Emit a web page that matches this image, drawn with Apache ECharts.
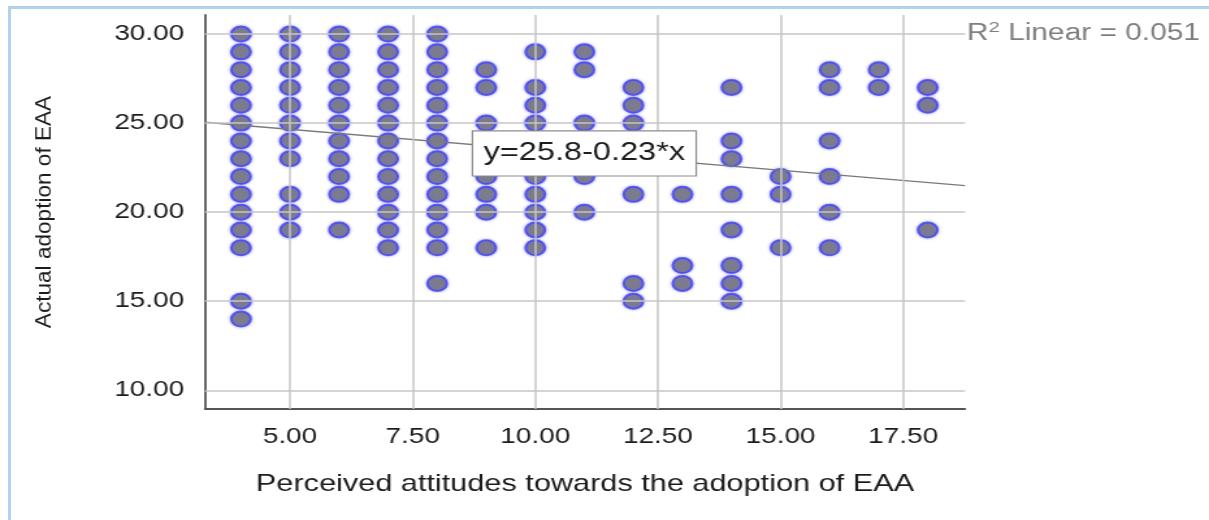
<!DOCTYPE html>
<html>
<head>
<meta charset="utf-8">
<title>Attitudes vs adoption of EAA</title>
<script src="https://cdn.jsdelivr.net/npm/echarts@6/dist/echarts.min.js"></script>
<style>
  html, body { margin: 0; padding: 0; background: #fff; }
  #page { position: relative; width: 1209px; height: 520px; overflow: hidden; background: #fff; }
  #frame {
    position: absolute; left: 8px; top: 6px; right: -10px; bottom: -10px;
    border-left: 3px solid #b3d1ee; border-top: 3px solid #b3d1ee;
    filter: blur(0.6px);
  }
  /* the chart is laid out narrow and widened horizontally */
  #chart {
    position: absolute; left: 0; top: 0; width: 930px; height: 520px;
    transform: scaleX(1.3); transform-origin: 0 0;
  }
</style>
</head>
<body>
<div id="page">
  <div id="frame"></div>
  <div id="chart"></div>
</div>
<script>
// Perceived attitude scores (x) and the actual-adoption scores observed at each one
const attitudeLevels = [4, 5, 6, 7, 8, 9, 10, 11, 12, 13, 14, 15, 16, 17, 18];
const adoptionAtLevel = [
  [30, 29, 28, 27, 26, 25, 24, 23, 22, 21, 20, 19, 18, 15, 14],
  [30, 29, 28, 27, 26, 25, 24, 23, 21, 20, 19],
  [30, 29, 28, 27, 26, 25, 24, 23, 22, 21, 19],
  [30, 29, 28, 27, 26, 25, 24, 23, 22, 21, 20, 19, 18],
  [30, 29, 28, 27, 26, 25, 24, 23, 22, 21, 20, 19, 18, 16],
  [28, 27, 25, 24, 23, 22, 21, 20, 18],
  [29, 27, 26, 25, 24, 23, 22, 21, 20, 19, 18],
  [29, 28, 25, 22, 20],
  [27, 26, 25, 21, 16, 15],
  [21, 17, 16],
  [27, 24, 23, 21, 19, 17, 16, 15],
  [22, 21, 18],
  [28, 27, 24, 22, 20, 18],
  [28, 27],
  [27, 26, 19]
];

// Axis ranges and tick labels
const xRange = [3.267, 18.76];
const yRange = [8.95, 31.07];
const xTicks = [5, 7.5, 10, 12.5, 15, 17.5];
const yTicks = [10, 15, 20, 25, 30];

// Linear fit: y = 25.8 - 0.23 * x, R² = 0.051
const fitIntercept = 25.8;
const fitSlope = -0.23;
const fitR2 = 0.051;
const fitLabelAt = [11.0, 23.3];

const points = [];
attitudeLevels.forEach((x, i) => {
  adoptionAtLevel[i].forEach(y => points.push([x, y]));
});

const fitLine = xRange.map(x => [x, fitIntercept + fitSlope * x]);
const fitText = 'y=' + fitIntercept + (fitSlope < 0 ? '-' : '+') + Math.abs(fitSlope) + '*x';

const FONT = "'Liberation Sans', Arial, Helvetica, sans-serif";
const TEXT = '#1c1c1c';
const GRID_LINE = { color: '#c6c6c6', width: 1.5, type: 'solid' };
const HIDDEN_ITEM = { color: 'rgba(0,0,0,0)', borderWidth: 0 };

const chart = echarts.init(document.getElementById('chart'), null, { renderer: 'canvas' });

chart.setOption({
  animation: false,
  backgroundColor: 'transparent',
  textStyle: { fontFamily: FONT },
  grid: { left: 157.7, right: 187.7, top: 15, bottom: 111, containLabel: false },
  xAxis: {
    type: 'value',
    min: xRange[0],
    max: xRange[1],
    name: 'Perceived attitudes towards the adoption of EAA',
    nameLocation: 'middle',
    nameGap: 63,
    nameTextStyle: { fontSize: 23.6, color: TEXT, fontFamily: FONT },
    axisLine: { show: true, lineStyle: { color: '#555', width: 1.8 } },
    axisTick: { show: false },
    splitLine: { show: false },
    axisLabel: {
      customValues: xTicks,
      formatter: v => v.toFixed(2),
      fontSize: 21.5,
      color: TEXT,
      margin: 17,
      fontFamily: FONT
    }
  },
  yAxis: {
    type: 'value',
    min: yRange[0],
    max: yRange[1],
    axisLine: { show: true, lineStyle: { color: '#555', width: 1.8 } },
    axisTick: { show: false },
    splitLine: { show: false },
    axisLabel: {
      customValues: yTicks,
      formatter: v => v.toFixed(2),
      fontSize: 21.5,
      color: TEXT,
      margin: 16,
      fontFamily: FONT
    }
  },
  graphic: [{
    id: 'yTitle',
    type: 'text',
    x: 34.6,
    y: 212,
    rotation: Math.PI / 2,
    scaleY: 0.72,
    style: {
      text: 'Actual adoption of EAA',
      fontSize: 22.6,
      fontFamily: FONT,
      fill: TEXT,
      align: 'center',
      verticalAlign: 'middle'
    }
  }],
  series: [
    {
      // reference grid at the tick positions
      type: 'scatter',
      data: [],
      z: 1,
      silent: true,
      markLine: {
        silent: true,
        symbol: 'none',
        label: { show: false },
        lineStyle: GRID_LINE,
        emphasis: { disabled: true },
        animation: false,
        data: xTicks.map(v => ({ xAxis: v })).concat(yTicks.map(v => ({ yAxis: v })))
      }
    },
    {
      name: 'Observed',
      type: 'scatter',
      z: 3,
      symbol: 'circle',
      symbolSize: 15,
      data: points,
      itemStyle: {
        color: '#6f6f6f',
        borderColor: '#4444f4',
        borderWidth: 2,
        shadowColor: 'rgba(90, 90, 255, 0.6)',
        shadowBlur: 3
      },
      emphasis: { disabled: true }
    },
    {
      name: 'Linear fit',
      type: 'line',
      z: 4,
      data: fitLine,
      symbol: 'none',
      lineStyle: { color: '#7a7a7a', width: 1.3 },
      emphasis: { disabled: true }
    },
    {
      // R² note at the right end of the top grid line
      type: 'scatter',
      z: 6,
      symbol: 'circle',
      symbolSize: 1,
      itemStyle: HIDDEN_ITEM,
      silent: true,
      clip: false,
      data: [[xRange[1], yTicks[yTicks.length - 1]]],
      label: {
        show: true,
        position: 'right',
        distance: 1,
        formatter: '{r|R}{s|2}{r| Linear = ' + fitR2.toFixed(3) + '}',
        rich: {
          r: { fontSize: 23, fontFamily: FONT, color: '#5e5e5e', lineHeight: 26 },
          s: { fontSize: 15.5, fontFamily: FONT, color: '#5e5e5e', lineHeight: 26, padding: [0, 0, 12, 0] }
        }
      },
      emphasis: { disabled: true }
    }
  ]
});

// fit equation in a boxed label, anchored at its data position
const labelPx = chart.convertToPixel({ gridIndex: 0 }, fitLabelAt);
chart.setOption({
  graphic: [{
    id: 'fitLabel',
    type: 'text',
    x: labelPx[0],
    y: labelPx[1],
    z: 100,
    silent: true,
    style: {
      text: fitText,
      fontSize: 25,
      fontFamily: FONT,
      fill: TEXT,
      align: 'center',
      verticalAlign: 'middle',
      backgroundColor: '#ffffff',
      borderColor: '#8c8c8c',
      borderWidth: 1.2,
      padding: [10, 8, 9, 8]
    }
  }]
});
</script>
</body>
</html>
